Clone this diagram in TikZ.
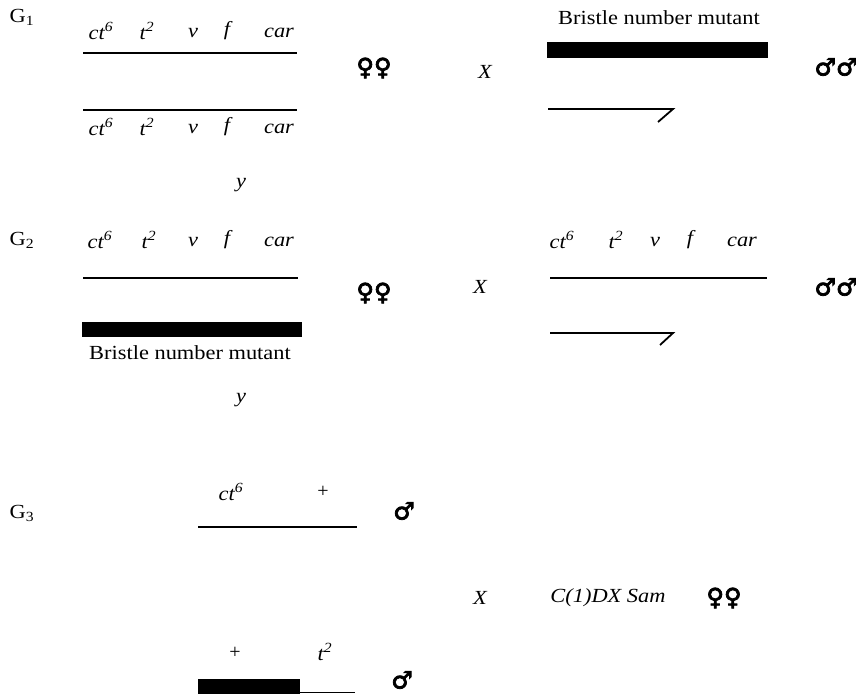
\documentclass[tikz,border=0pt]{standalone}
\usepackage{fontspec}
\setmainfont{Liberation Serif}
\newfontfamily\symfont{DejaVu Sans}[FakeBold=3]
\newcommand{\wtx}[1]{\scalebox{1.12}[1]{#1}}
\begin{document}
\begin{tikzpicture}[x=1pt,y=-1pt,
  lbl/.style={inner sep=0pt,font=\fontsize{20}{22}\selectfont},
  gene/.style={lbl,font=\fontsize{20}{22}\selectfont\itshape},
  sym/.style={inner sep=0pt,font=\fontsize{24}{26}\selectfont\symfont\bfseries},
  chrom/.style={line width=1.8pt},
  bar/.style={fill=black,draw=none}]
\useasboundingbox (0,0) rectangle (856,697);

% ---------- G1 ----------
\node[lbl] (g1) at (22,17) {\wtx{G\textsubscript{1}}};
\node[gene] (a1) at (101,31) {\wtx{ct\textsuperscript{6}}};
\node[gene] (a2) at (147,31) {\wtx{t\textsuperscript{2}}};
\node[gene] (a3) at (193,33) {\wtx{v}};
\node[gene] (a4) at (227,31) {\wtx{f}};
\node[gene] (a5) at (279,33) {\wtx{car}};
\coordinate (l1a) at (83,53); \coordinate (l1b) at (297,53);
\draw[chrom] (l1a) -- (l1b);
\coordinate (l2a) at (83,110); \coordinate (l2b) at (297,110);
\draw[chrom] (l2a) -- (l2b);
\node[gene] (b1) at (101,127) {\wtx{ct\textsuperscript{6}}};
\node[gene] (b2) at (147,127) {\wtx{t\textsuperscript{2}}};
\node[gene] (b3) at (193,129) {\wtx{v}};
\node[gene] (b4) at (227,127) {\wtx{f}};
\node[gene] (b5) at (279,129) {\wtx{car}};
\node[sym] (f1) at (374,68) {♀♀};

\node[gene] (x1) at (485,72) {\wtx{X}};
\node[lbl] (bn1) at (659,18) {\wtx{Bristle number mutant}};
\path[bar] (547,42) rectangle (768,58);
\coordinate (h1a) at (548,109); \coordinate (h1b) at (673,109); \coordinate (h1c) at (658,122);
\draw[chrom] (h1a) -- (h1b) -- (h1c);
\node[sym] (m1) at (836,67) {♂♂};

\node[gene] (y1) at (241,185) {\wtx{y}};

% ---------- G2 ----------
\node[lbl] (g2) at (22,240) {\wtx{G\textsubscript{2}}};
\node[gene] (c1) at (100,240) {\wtx{ct\textsuperscript{6}}};
\node[gene] (c2) at (149,240) {\wtx{t\textsuperscript{2}}};
\node[gene] (c3) at (193,242) {\wtx{v}};
\node[gene] (c4) at (227,240) {\wtx{f}};
\node[gene] (c5) at (279,242) {\wtx{car}};
\coordinate (l3a) at (83,278); \coordinate (l3b) at (298,278);
\draw[chrom] (l3a) -- (l3b);
\path[bar] (82,322) rectangle (302,337);
\node[lbl] (bn2) at (190,353) {\wtx{Bristle number mutant}};
\node[sym] (f2) at (374,293) {♀♀};

\node[gene] (x2) at (480,287) {\wtx{X}};
\node[gene] (d1) at (562,240) {\wtx{ct\textsuperscript{6}}};
\node[gene] (d2) at (616,240) {\wtx{t\textsuperscript{2}}};
\node[gene] (d3) at (655,242) {\wtx{v}};
\node[gene] (d4) at (690,240) {\wtx{f}};
\node[gene] (d5) at (742,242) {\wtx{car}};
\coordinate (l4a) at (550,278); \coordinate (l4b) at (767,278);
\draw[chrom] (l4a) -- (l4b);
\coordinate (h2a) at (550,333); \coordinate (h2b) at (673,333); \coordinate (h2c) at (660,345);
\draw[chrom] (h2a) -- (h2b) -- (h2c);
\node[sym] (m2) at (836,287) {♂♂};

\node[gene] (y2) at (241,400) {\wtx{y}};

% ---------- G3 ----------
\node[lbl] (g3) at (22,513) {\wtx{G\textsubscript{3}}};
\node[gene] (e1) at (231,492) {\wtx{ct\textsuperscript{6}}};
\node[lbl] (e2) at (323,492) {+};
\coordinate (l5a) at (198,527); \coordinate (l5b) at (357,527);
\draw[chrom] (l5a) -- (l5b);
\node[sym] (m3) at (404,511) {♂};

\node[gene] (x3) at (480,598) {\wtx{X}};
\node[gene] (cdx) at (608,598) {\wtx{C(1)DX Sam}};
\node[sym] (f3) at (724,598) {♀♀};

\node[lbl] (e3) at (235,653) {+};
\node[gene] (e4) at (325,652) {\wtx{t\textsuperscript{2}}};
\path[bar] (198,679) rectangle (300,694);
\coordinate (l6a) at (300,692.5); \coordinate (l6b) at (355,692.5);
\draw[chrom] (l6a) -- (l6b);
\node[sym] (m4) at (402,680) {♂};
\end{tikzpicture}
\end{document}
